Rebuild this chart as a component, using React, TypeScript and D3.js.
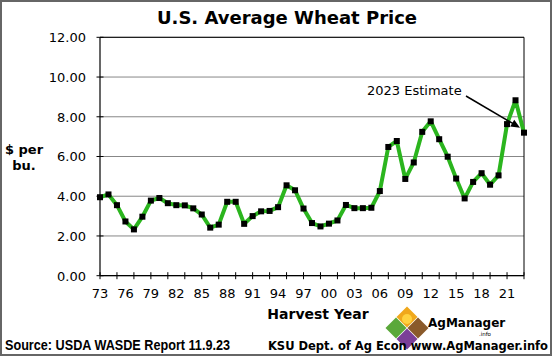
import React from "react";
import * as d3 from "d3";

const years: number[] = d3.range(1973, 2024);
const prices: number[] = [
  3.95, 4.09, 3.55, 2.73, 2.33, 2.97, 3.78, 3.91, 3.65, 3.55,
  3.54, 3.39, 3.08, 2.42, 2.57, 3.72, 3.72, 2.61, 3.0, 3.24,
  3.26, 3.45, 4.55, 4.3, 3.38, 2.65, 2.48, 2.62, 2.78, 3.56,
  3.4, 3.4, 3.42, 4.26, 6.48, 6.78, 4.87, 5.7, 7.24, 7.77,
  6.87, 5.99, 4.89, 3.89, 4.72, 5.16, 4.58, 5.05, 7.63, 8.83,
  7.2,
];
const yTicks: number[] = [0, 2, 4, 6, 8, 10, 12];
const xLabelYears: number[] = d3.range(1973, 2022, 3);
const xTickYears: number[] = d3.range(1973, 2024, 2);

const FONT = "DejaVu Sans, Verdana, sans-serif";

export default function App() {
  const x = d3.scaleLinear().domain([1973, 2023]).range([100, 524]);
  const y = d3.scaleLinear().domain([0, 12]).range([275.7, 37.3]);
  const data = years.map((yr, i) => ({ yr, v: prices[i] }));
  const line = d3
    .line<{ yr: number; v: number }>()
    .x((d) => x(d.yr))
    .y((d) => y(d.v));

  const last = data[data.length - 1];
  const ax0 = 466, ay0 = 96;
  const ax1 = x(last.yr) - 4, ay1 = y(last.v) - 5;
  const ang = Math.atan2(ay1 - ay0, ax1 - ax0);
  const ah = 9, aw = 4;
  const p1 = [ax1 - ah * Math.cos(ang) + aw * Math.sin(ang), ay1 - ah * Math.sin(ang) - aw * Math.cos(ang)];
  const p2 = [ax1 - ah * Math.cos(ang) - aw * Math.sin(ang), ay1 - ah * Math.sin(ang) + aw * Math.cos(ang)];

  const lc = { x: 407, y: 328 };
  const dh = 10.5;
  const diamond = (cx: number, cy: number) =>
    `M${cx},${cy - dh}L${cx + dh},${cy}L${cx},${cy + dh}L${cx - dh},${cy}Z`;

  return (
    <div style={{ position: "absolute", left: 0, top: 0 }}>
      <svg width={552} height={356} style={{ display: "block", background: "#fff" }}>
        <rect x={1} y={1} width={550} height={354} fill="#fff" stroke="#666" strokeWidth={2} />
        <text x={287} y={24} textAnchor="middle" fontFamily={FONT} fontWeight="bold" fontSize={18} fill="#000">
          U.S. Average Wheat Price
        </text>

        {/* gridlines */}
        {yTicks.map((t) => (
          <line key={"g" + t} x1={x(1973)} x2={x(2023)} y1={y(t)} y2={y(t)} stroke="#878787" strokeWidth={1} />
        ))}
        {/* plot border top/right */}
        <line x1={x(1973)} x2={x(2023)} y1={y(12)} y2={y(12)} stroke="#000" strokeWidth={1} />
        <line x1={x(2023)} x2={x(2023)} y1={y(12)} y2={y(0)} stroke="#000" strokeWidth={1} />

        {/* y axis */}
        <line x1={x(1973)} x2={x(1973)} y1={y(12)} y2={y(0)} stroke="#000" strokeWidth={1.2} />
        {yTicks.map((t) => (
          <g key={"y" + t}>
            <line x1={x(1973) - 3.5} x2={x(1973) + 3.5} y1={y(t)} y2={y(t)} stroke="#000" strokeWidth={1} />
            <text x={86} y={y(t) + 4.8} textAnchor="end" fontFamily={FONT} fontSize={13} fill="#000">
              {t.toFixed(2)}
            </text>
          </g>
        ))}

        {/* x axis */}
        <line x1={x(1973)} x2={x(2023)} y1={y(0)} y2={y(0)} stroke="#000" strokeWidth={1.2} />
        {xTickYears.map((t) => (
          <line key={"xt" + t} x1={x(t)} x2={x(t)} y1={y(0) - 3.5} y2={y(0) + 3.5} stroke="#000" strokeWidth={1} />
        ))}
        {xLabelYears.map((t) => (
          <text key={"xl" + t} x={x(t)} y={297.5} textAnchor="middle" fontFamily={FONT} fontSize={13} fill="#000">
            {String(t % 100).padStart(2, "0")}
          </text>
        ))}

        {/* series */}
        <path d={line(data) || ""} fill="none" stroke="#2bb51e" strokeWidth={4} strokeLinejoin="round" />
        {data.map((d) => (
          <rect key={"m" + d.yr} x={x(d.yr) - 3} y={y(d.v) - 3} width={6} height={6} fill="#000" />
        ))}

        {/* annotation */}
        <text x={367} y={95} fontFamily={FONT} fontSize={13} fill="#000">2023 Estimate</text>
        <line x1={ax0} y1={ay0} x2={ax1 - 6 * Math.cos(ang)} y2={ay1 - 6 * Math.sin(ang)} stroke="#000" strokeWidth={1.5} />
        <path d={`M${ax1},${ay1}L${p1[0]},${p1[1]}L${p2[0]},${p2[1]}Z`} fill="#000" />

        {/* axis titles */}
        <text x={24} y={154} textAnchor="middle" fontFamily={FONT} fontWeight="bold" fontSize={13} fill="#000">$ per</text>
        <text x={24} y={170} textAnchor="middle" fontFamily={FONT} fontWeight="bold" fontSize={13} fill="#000">bu.</text>
        <text x={318} y={319} textAnchor="middle" fontFamily={FONT} fontWeight="bold" fontSize={14} fill="#000">Harvest Year</text>

        {/* logo */}
        <path d={diamond(lc.x, lc.y - 11)} fill="#f0a81c" />
        <circle cx={lc.x} cy={lc.y - 9} r={5} fill="#ffd23f" />
        <path d={diamond(lc.x - 11, lc.y)} fill="#5aa83a" />
        <path d={diamond(lc.x + 11, lc.y)} fill="#8a5a2b" />
        <path d={diamond(lc.x, lc.y + 11)} fill="#7b3f98" />
        <text x={428} y={327} fontFamily={FONT} fontWeight="bold" fontSize={12} fill="#000">AgManager</text>
        <text x={491} y={336} textAnchor="end" fontFamily={FONT} fontSize={5.5} fill="#000">.info</text>

        {/* footer */}
        <text x={5} y={350} fontFamily="Liberation Sans Narrow, Liberation Sans, sans-serif" fontWeight="bold" fontSize={15.5}
          textLength={225} lengthAdjust="spacingAndGlyphs" fill="#000">
          Source:  USDA WASDE Report 11.9.23
        </text>
        <text x={548} y={350} textAnchor="end" fontFamily={FONT} fontWeight="bold" fontSize={11.5} fill="#000">
          KSU Dept. of Ag Econ www.AgManager.info
        </text>
      </svg>
    </div>
  );
}
